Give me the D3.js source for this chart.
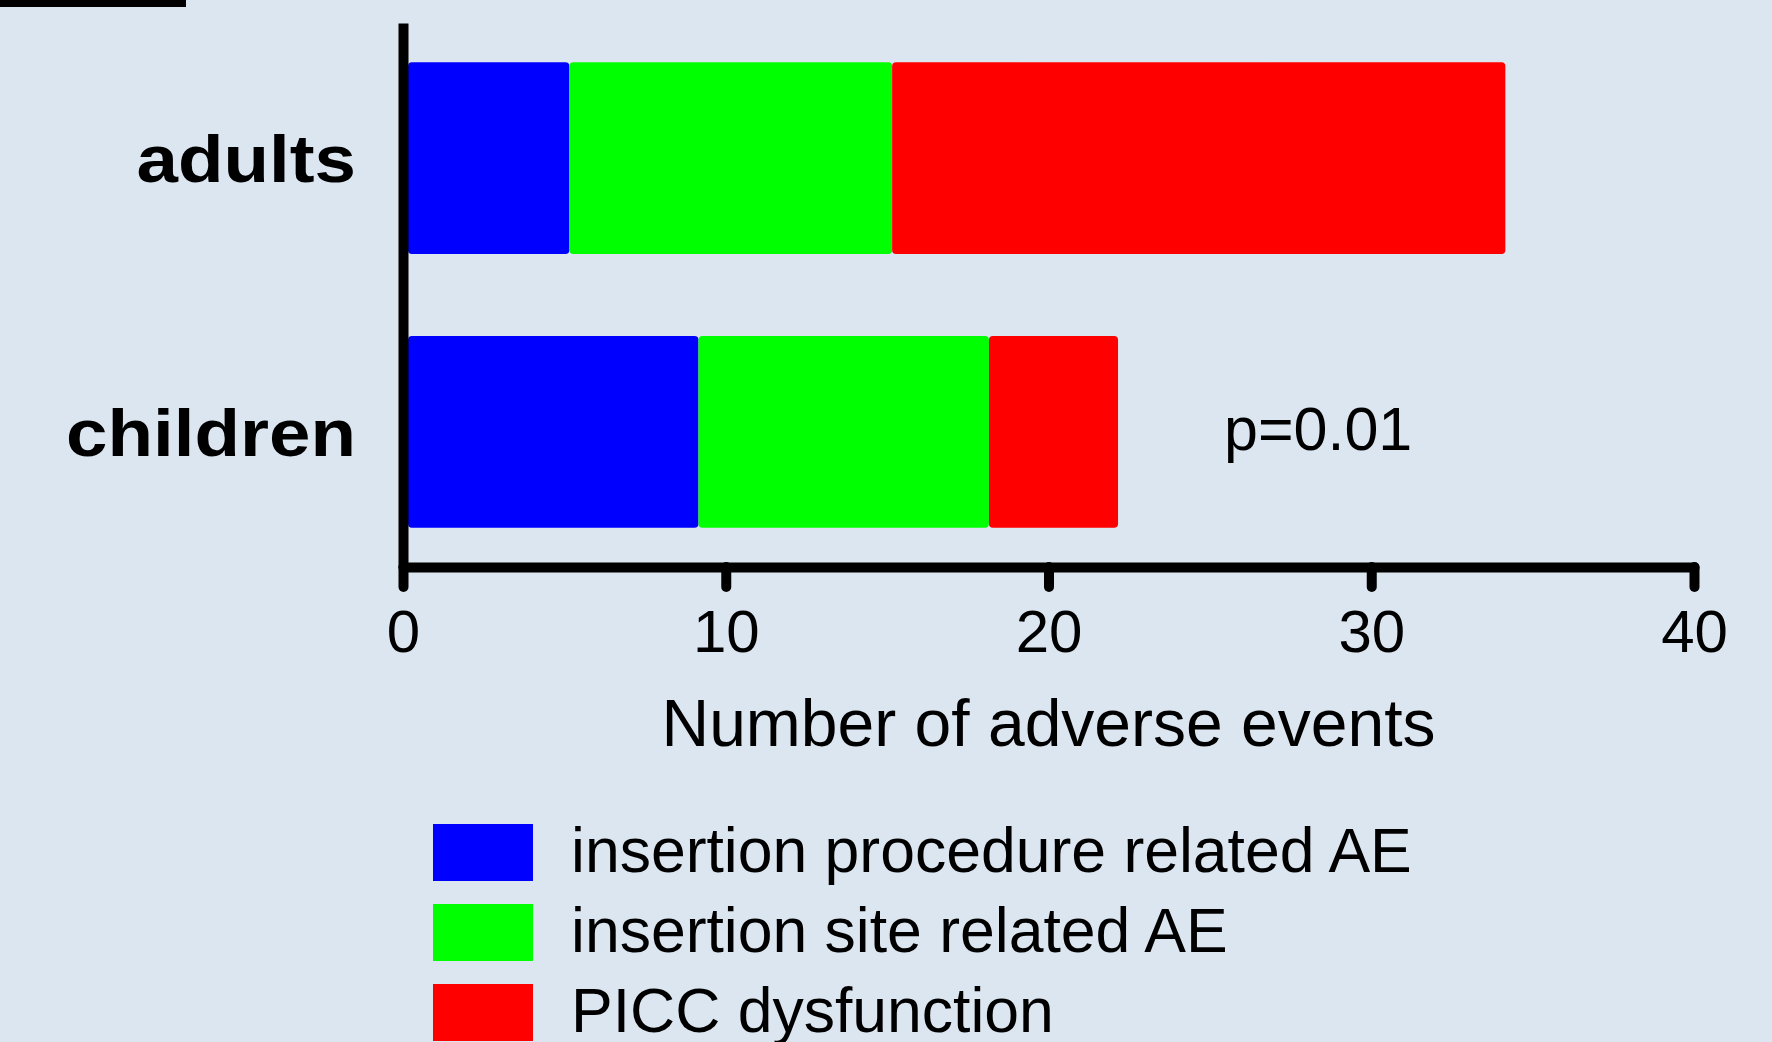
<!DOCTYPE html>
<html>
<head>
<meta charset="utf-8">
<script src="https://cdn.jsdelivr.net/npm/d3@7"></script>
<style>
  html, body { margin: 0; padding: 0; background: #dce6f1; }
  svg { display: block; font-family: Arial, "Liberation Sans", sans-serif; }
</style>
</head>
<body>
<div id="chart"></div>
<script>
// data
var groups = ["adults", "children"];
var seriesNames = ["insertion procedure related AE", "insertion site related AE", "PICC dysfunction"];
var seriesColors = ["#0000ff", "#00ff00", "#ff0000"];
var procedureAE = [5, 9];
var siteAE = [10, 9];
var dysfunctionAE = [19, 4];
var xTicks = [0, 10, 20, 30, 40];
var pLabel = "p=0.01";
var xTitle = "Number of adverse events";

var W = 1772, H = 1042;
var x0 = 403, x1 = 1694, yTop = 23, yBottom = 567;
var stretch = 1.13; // bold labels are drawn a bit wide in the original

var svg = d3.select("#chart").append("svg")
    .attr("width", W)
    .attr("height", H);

svg.append("rect").attr("width", W).attr("height", H).attr("fill", "#dce6f1");

// stray border piece at the top left
svg.append("rect").attr("x", 0).attr("y", 0).attr("width", 186).attr("height", 7).attr("fill", "#000");

var rows = groups.map(function(g, i) {
  return {group: g, proc: procedureAE[i], site: siteAE[i], dys: dysfunctionAE[i]};
});
var stack = d3.stack().keys(["proc", "site", "dys"]);
var layers = stack(rows);

var xScale = d3.scaleLinear().domain([0, 40]).range([x0, x1]);
// bars start at the right edge of the thick y axis line
var barScale = d3.scaleLinear().domain([0, 40]).range([x0 + 5, x1 + 5]);
var yScale = d3.scaleBand().domain(groups).range([yTop, yBottom])
    .paddingInner(0.3).paddingOuter(0.143);

// bars
svg.selectAll(".layer")
    .data(layers)
  .enter().append("g")
    .attr("class", "layer")
    .attr("fill", function(d, i) { return seriesColors[i]; })
  .selectAll("rect")
    .data(function(d) { return d; })
  .enter().append("rect")
    .attr("x", function(d) { return barScale(d[0]); })
    .attr("y", function(d) { return yScale(d.data.group); })
    .attr("width", function(d) { return barScale(d[1]) - barScale(d[0]); })
    .attr("height", yScale.bandwidth())
    .attr("rx", 4);

// x axis
var xAxis = svg.append("g")
    .attr("transform", "translate(0," + yBottom + ")")
    .call(d3.axisBottom(xScale).tickValues(xTicks).tickSize(20).tickSizeOuter(0).tickPadding(22));
xAxis.select(".domain")
    .attr("stroke", "#000").attr("stroke-width", 10)
    .attr("stroke-linecap", "round");
xAxis.selectAll(".tick line")
    .attr("stroke", "#000").attr("stroke-width", 10)
    .attr("stroke-linecap", "round");
xAxis.selectAll(".tick text")
    .attr("fill", "#000")
    .attr("font-size", 60)
    .attr("font-family", "Arial, 'Liberation Sans', sans-serif");

// y axis
var yAxis = svg.append("g")
    .attr("transform", "translate(" + x0 + ",0)")
    .call(d3.axisLeft(yScale).tickSize(0).tickSizeOuter(0).tickPadding(47));
yAxis.select(".domain")
    .attr("stroke", "#000").attr("stroke-width", 10);
yAxis.selectAll(".tick text")
    .attr("fill", "#000")
    .attr("font-size", 66)
    .attr("font-weight", "bold")
    .attr("x", -47 / stretch)
    .attr("dy", "0.36em")
    .attr("transform", "scale(" + stretch + ",1)")
    .attr("font-family", "Arial, 'Liberation Sans', sans-serif");

// axis title
svg.append("text")
    .attr("x", (x0 + x1) / 2)
    .attr("y", 746)
    .attr("text-anchor", "middle")
    .attr("font-size", 66)
    .attr("fill", "#000")
    .text(xTitle);

// p value
svg.append("text")
    .attr("x", 1224)
    .attr("y", 450)
    .attr("font-size", 61)
    .attr("fill", "#000")
    .text(pLabel);

// legend
var legend = svg.selectAll(".legend")
    .data(seriesNames)
  .enter().append("g")
    .attr("class", "legend")
    .attr("transform", function(d, i) { return "translate(433," + (824 + i * 80) + ")"; });

legend.append("rect")
    .attr("width", 100)
    .attr("height", 57)
    .attr("fill", function(d, i) { return seriesColors[i]; });

legend.append("text")
    .attr("x", 138)
    .attr("y", 48)
    .attr("font-size", 62.5)
    .attr("fill", "#000")
    .text(function(d) { return d; });
</script>
</body>
</html>
